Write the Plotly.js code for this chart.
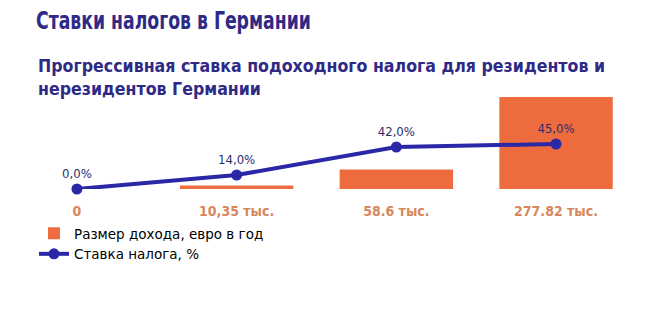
<!DOCTYPE html>
<html>
<head>
<meta charset="utf-8">
<script src="https://cdn.plot.ly/plotly-3.0.1.min.js"></script>
<style>
html,body{margin:0;padding:0;background:#fff;}
#chart{width:664px;height:312px;}
#chart .gtitle{transform-box:fill-box;transform-origin:left center;transform:scaleX(0.8);}
</style>
</head>
<body>
<div id="chart"></div>
<script>
var categories = ["0", "10,35 тыс.", "58.6 тыс.", "277.82 тыс."];
var incomeValues = [0, 10350, 58600, 277820];
var taxRates = [0, 14, 42, 45];
var incomeName = "Размер дохода, евро в год";
var rateName = "Ставка налога, %";
var titleText = "Ставки налогов в Германии";
var subtitleText = "Прогрессивная ставка подоходного налога для резидентов и<br>нерезидентов Германии";

var rateLabels = taxRates.map(function (v) { return v.toFixed(1).replace('.', ',') + '%'; });

var FONT = "'DejaVu Sans Condensed', 'DejaVu Sans', sans-serif";
var TITLE_COLOR = "#2f2a86";

var traces = [
  {
    type: "bar",
    name: incomeName,
    x: categories,
    y: incomeValues,
    width: 0.71,
    marker: {color: "#ed6b3d"},
    hoverinfo: "skip"
  },
  {
    type: "scatter",
    mode: "lines+markers+text",
    name: rateName,
    x: categories,
    y: taxRates,
    yaxis: "y2",
    text: rateLabels,
    textposition: "top center",
    textfont: {family: FONT, size: 13, color: "#2e2c6e"},
    line: {color: "#2b28a8", width: 4},
    marker: {color: "#2b28a8", size: 11},
    cliponaxis: false,
    hoverinfo: "skip"
  }
];

var layout = {
  width: 664,
  height: 312,
  margin: {l: 0, r: 0, t: 97, b: 123},
  paper_bgcolor: "#ffffff",
  plot_bgcolor: "#ffffff",
  font: {family: FONT, size: 14, color: "#000"},
  title: {
    text: titleText,
    font: {family: FONT, size: 24, color: TITLE_COLOR, weight: "bold"},
    x: 36 / 664, xanchor: "left", xref: "container",
    y: 1 - 21 / 312, yanchor: "middle", yref: "container"
  },
  annotations: [{
    text: subtitleText,
    xref: "paper", yref: "paper",
    x: 36 / 664, xanchor: "left",
    y: (189 - 77) / 92, yanchor: "middle",
    align: "left",
    showarrow: false,
    font: {family: FONT, size: 17.6, color: TITLE_COLOR, weight: "bold"}
  }],
  xaxis: {
    type: "category",
    range: [-0.482, 3.676],
    showgrid: false, zeroline: false, showline: false,
    ticks: "outside", ticklen: 9, tickcolor: "rgba(0,0,0,0)",
    tickfont: {family: FONT, size: 14, color: "#d8875c", weight: "bold"},
    fixedrange: true
  },
  yaxis: {
    range: [0, 277820],
    visible: false,
    fixedrange: true
  },
  yaxis2: {
    range: [0, 92],
    overlaying: "y",
    side: "right",
    visible: false,
    fixedrange: true
  },
  showlegend: true,
  legend: {
    x: 34 / 664, xanchor: "left",
    y: (189 - 218) / 92, yanchor: "top",
    orientation: "v",
    font: {family: "'DejaVu Sans', sans-serif", size: 13.5, color: "#000"},
    bgcolor: "rgba(0,0,0,0)",
    itemwidth: 30,
    tracegroupgap: 0
  }
};

Plotly.newPlot("chart", traces, layout, {displayModeBar: false, staticPlot: true});
</script>
</body>
</html>
